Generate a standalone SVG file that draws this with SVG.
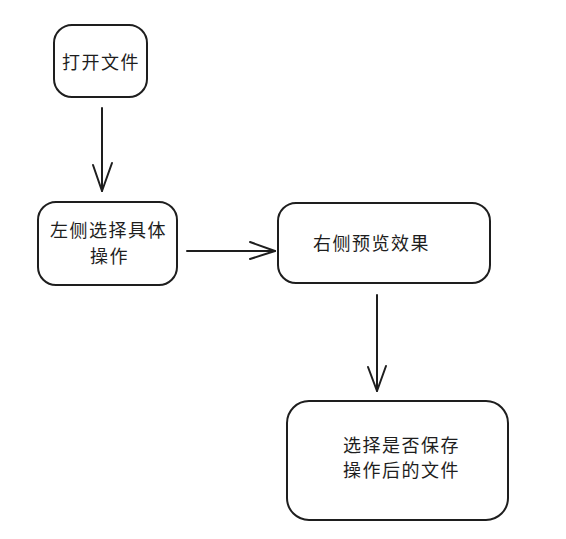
<svg xmlns="http://www.w3.org/2000/svg" width="566" height="539" viewBox="0 0 566 539">
<style>
.box{fill:none;stroke:#1e1e1e;stroke-width:2;stroke-linecap:round;stroke-linejoin:round}
.ln{fill:none;stroke:#1e1e1e;stroke-width:2;stroke-linecap:round;stroke-linejoin:round}
.t{font-family:"Noto Sans CJK SC","Noto Sans",sans-serif;font-size:18px;letter-spacing:1.5px;fill:#1e1e1e}
</style>
<rect width="566" height="539" fill="#ffffff"/>
<g id="node-open">
<rect class="box" x="54" y="25" width="93" height="72" rx="18"/>
<text class="t" x="62" y="68.5">打开文件</text>
</g>
<g id="node-left">
<rect class="box" x="38" y="202" width="139" height="83" rx="18"/>
<text class="t" x="50" y="236.5">左侧选择具体</text>
<text class="t" x="90" y="262.5">操作</text>
</g>
<g id="node-right">
<rect class="box" x="278" y="203" width="212" height="80" rx="18"/>
<text class="t" x="313" y="249.5">右侧预览效果</text>
</g>
<g id="node-save">
<rect class="box" x="287" y="401" width="221" height="119" rx="22"/>
<text class="t" x="343" y="451.5">选择是否保存</text>
<text class="t" x="343" y="476.5">操作后的文件</text>
</g>
<g id="connectors">
<path class="ln" d="M102 108 L102 191"/>
<polyline class="ln" points="93,165 102,191 112,163"/>
<path class="ln" d="M187 251 L275 251"/>
<polyline class="ln" points="250,242 275,251 250,259"/>
<path class="ln" d="M377 295 L377 391"/>
<polyline class="ln" points="368,367 377,391 386,366"/>
</g>
</svg>
